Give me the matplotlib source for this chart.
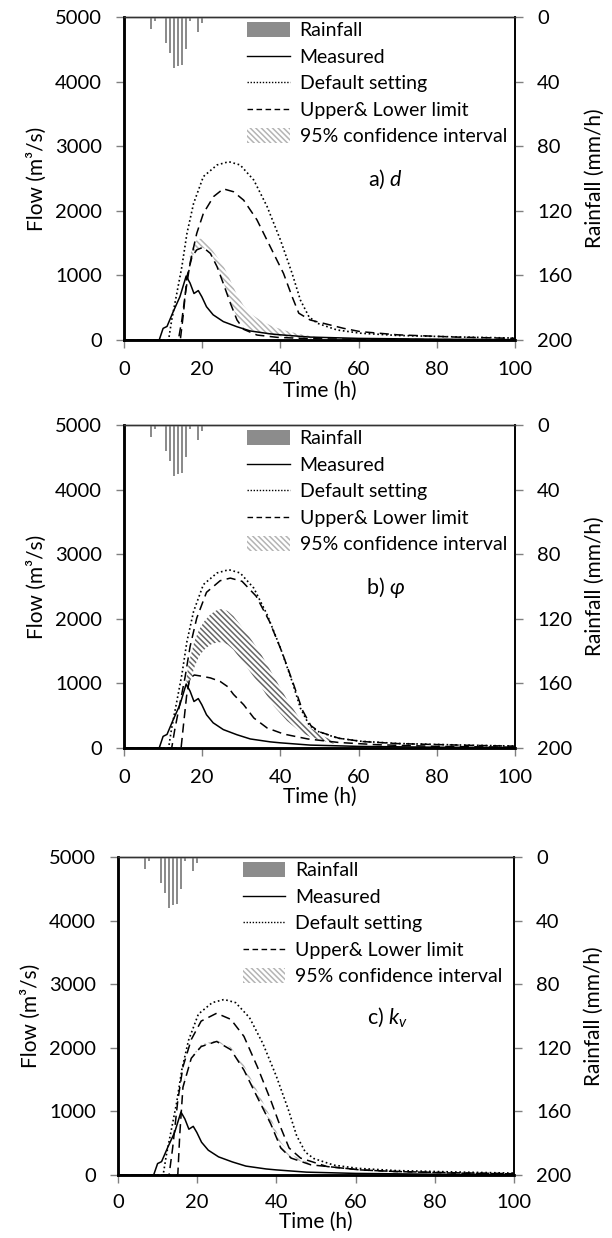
import matplotlib
matplotlib.use("Agg")
import matplotlib.pyplot as plt
from matplotlib.patches import Patch
from matplotlib.lines import Line2D

plt.rcParams['font.family'] = ['Lato', 'DejaVu Sans']
plt.rcParams['font.size'] = 14.5
plt.rcParams['mathtext.fontset'] = 'custom'
plt.rcParams['mathtext.rm'] = 'Lato'
plt.rcParams['mathtext.it'] = 'Lato:italic'
plt.rcParams['hatch.linewidth'] = 1.1

# ---------------- data ----------------
rain_t = [0.9, 3.1, 6.9, 7.9, 10.8, 11.8, 12.8, 13.8, 14.8, 15.9, 16.9, 19.0, 20.0, 25.9, 28.9, 29.9, 38.0]
rain_v = [0.8, 0.8, 7.6, 2.3, 16.3, 22.5, 31.8, 30.3, 29.7, 20.0, 2.3, 9.1, 3.9, 0.5, 0.5, 0.5, 0.5]

meas_t = [0, 9, 10, 11, 12.6, 14.3, 15.9, 16.9, 17.9, 19.0, 19.9, 21.1, 22.8, 25.4, 28.9, 32.3, 37.4, 40, 47.6, 60, 80, 100]
meas_q = [0, 0, 180, 210, 440, 670, 990, 880, 720, 765, 670, 515, 390, 285, 205, 140, 95, 80, 45, 25, 12, 6]

def_t = [0, 11.4, 12.2, 13.5, 14.8, 16.1, 17.8, 20.3, 23.8, 26.8, 29.7, 33.2, 36.6, 40.0, 43.0, 45.1, 47.3, 49.4, 54.5, 60.5, 70, 87, 100]
def_q = [0, 0, 310, 720, 1135, 1650, 2115, 2530, 2710, 2760, 2710, 2475, 2065, 1550, 1030, 620, 360, 260, 155, 105, 70, 45, 30]

# panel a (d)
up_a_t = [0, 13.9, 14.8, 15.7, 16.9, 18.6, 20.3, 22.9, 25.4, 28.0, 30.6, 34.0, 37.4, 40.8, 43.0, 44.7, 47.6, 56.2, 60.4, 70, 85, 100]
up_a_q = [0, 0, 310, 720, 1190, 1650, 1960, 2220, 2340, 2295, 2165, 1860, 1445, 1030, 670, 415, 310, 180, 130, 80, 45, 25]
lo_a_t = [0, 14.4, 15.2, 16.1, 17.4, 18.6, 20.2, 22.1, 23.8, 25.4, 27.2, 28.9, 30.6, 34.0, 39.2, 47.6, 60, 80, 100]
lo_a_q = [0, 0, 410, 980, 1290, 1395, 1435, 1340, 1135, 875, 570, 310, 165, 77, 41, 20, 12, 6, 3]
ci_a_t = [16.8, 17.8, 18.8, 19.8, 21.0, 22.5, 24.0, 25.5, 27.0, 28.9, 30.6, 32.3, 35.0, 38.0, 41.0, 45.0, 50.0]
ci_a_hi = [1300, 1480, 1560, 1570, 1510, 1400, 1270, 1140, 950, 700, 530, 410, 300, 210, 150, 90, 40]
ci_a_lo = [1200, 1330, 1400, 1430, 1410, 1310, 1120, 880, 620, 350, 220, 160, 110, 75, 50, 30, 15]

# panel b (phi)
up_b_t = [0, 12.2, 13.0, 14.3, 15.6, 16.9, 18.6, 21.1, 24.6, 27.2, 30.2, 33.8, 37.2, 40.5, 43.4, 45.6, 47.8, 50, 55, 61, 70, 87, 100]
up_b_q = [0, 0, 290, 690, 1090, 1570, 2010, 2410, 2590, 2630, 2580, 2350, 1960, 1470, 980, 590, 345, 250, 150, 100, 68, 43, 28]
lo_b_t = [0, 14.6, 15.2, 16.0, 16.8, 18.0, 20.0, 22.1, 24.6, 26.5, 28.0, 30.6, 33.2, 36.6, 40.9, 47, 55, 65, 80, 100]
lo_b_q = [0, 0, 350, 800, 1080, 1130, 1110, 1085, 1030, 950, 830, 670, 465, 310, 215, 140, 85, 50, 25, 12]
ci_b_t = [16.0, 16.6, 18.0, 19.2, 20.5, 22.1, 23.6, 25.1, 26.5, 28.0, 31.4, 34.9, 38.3, 41.7, 45.1, 47.7, 51.0, 54.0]
ci_b_hi = [1100, 1320, 1650, 1830, 1960, 2070, 2130, 2155, 2120, 2040, 1780, 1470, 1110, 750, 440, 310, 180, 100]
ci_b_lo = [900, 960, 1250, 1420, 1520, 1600, 1630, 1640, 1600, 1520, 1250, 960, 650, 420, 250, 170, 110, 60]

# panel c (kv)
up_c_t = [0, 12.9, 13.8, 15.1, 16.4, 18.5, 21.0, 24.9, 28.5, 31.8, 35.2, 38.6, 41.1, 43.2, 46.1, 52.8, 61.2, 70, 85, 100]
up_c_q = [0, 0, 425, 1170, 1700, 2130, 2420, 2543, 2447, 2180, 1700, 1170, 745, 425, 266, 133, 80, 55, 35, 20]
lo_c_t = [0, 15.1, 15.6, 16.4, 18.5, 21.0, 24.9, 28.5, 31.8, 35.2, 38.6, 41.1, 43.7, 48.7, 61.2, 70, 85, 100]
lo_c_q = [0, 0, 640, 1380, 1835, 2020, 2100, 1970, 1650, 1220, 800, 425, 266, 160, 80, 55, 30, 18]
ci_c_t = [16.4, 18.5, 21.0, 24.9, 28.5, 31.8, 35.2, 38.6, 41.1, 43.7, 48.7]
ci_c_hi = [1420, 1860, 2050, 2120, 2010, 1730, 1320, 900, 520, 320, 180]
ci_c_lo = [1380, 1835, 2020, 2100, 1970, 1650, 1220, 800, 425, 266, 160]

panels = [
    dict(rect=(124, 515, 17, 340), up=(up_a_t, up_a_q), lo=(lo_a_t, lo_a_q),
         ci=(ci_a_t, ci_a_lo, ci_a_hi), ci_color='#b4b4b4', label=r'a) $d$', lx=67,
         xpad=9, lpad=2),
    dict(rect=(124, 515, 425, 748), up=(up_b_t, up_b_q), lo=(lo_b_t, lo_b_q),
         ci=(ci_b_t, ci_b_lo, ci_b_hi), ci_color='#666666', label=r'b) $\varphi$', lx=67,
         xpad=9, lpad=1),
    dict(rect=(118, 514, 857, 1175), up=(up_c_t, up_c_q), lo=(lo_c_t, lo_c_q),
         ci=(ci_c_t, ci_c_lo, ci_c_hi), ci_color='#b4b4b4', label=r'c) $k_v$', lx=68,
         xpad=8, lpad=0),
]

W, H = 612, 1238
fig = plt.figure(figsize=(W / 100, H / 100), dpi=100)

HATCH = '\\\\\\\\\\\\'
DASH = (6, 3.5)
DOT = (1, 1.6)

for p in panels:
    l, r, t, b = p['rect']
    ax = fig.add_axes([l / W, 1 - b / H, (r - l) / W, (b - t) / H])
    ax2 = ax.twinx()

    ax.fill_between(p['ci'][0], p['ci'][1], p['ci'][2], facecolor='none',
                    edgecolor=p['ci_color'], linewidth=0, hatch=HATCH, zorder=1)
    ax.plot(meas_t, meas_q, color='black', lw=1.1, zorder=3)
    ax.plot(def_t, def_q, color='black', lw=1.2, linestyle=(0, DOT), zorder=3)
    ax.plot(*p['up'], color='black', lw=1.1, linestyle=(0, DASH), zorder=3)
    ax.plot(*p['lo'], color='black', lw=1.1, linestyle=(0, DASH), zorder=3)

    ax.set_xlim(0, 100)
    ax.set_ylim(0, 5000)
    ax.set_xticks(range(0, 101, 20))
    ax.set_yticks(range(0, 5001, 1000))
    ax.set_xlabel('Time (h)', labelpad=p['lpad'], fontsize=15)
    ax.set_ylabel('Flow (m³/s)', labelpad=6, fontsize=15)
    ax.tick_params(axis='both', direction='out', length=6, width=1, color='#808080')
    ax.tick_params(axis='y', pad=10)
    ax.tick_params(axis='x', pad=p['xpad'])
    ax.text(p['lx'], 2480, p['label'], fontsize=15.5, ha='center', va='center')

    ax2.bar(rain_t, rain_v, width=0.55, color='#8c8c8c', zorder=2)
    ax2.set_ylim(200, 0)
    ax2.set_yticks(range(0, 201, 40))
    ax2.set_ylabel('Rainfall (mm/h)', labelpad=9, fontsize=15)
    ax2.tick_params(axis='y', direction='out', length=6, width=1, color='#808080', pad=10)

    for a in (ax, ax2):
        a.spines['left'].set_linewidth(1.8)
        a.spines['bottom'].set_linewidth(1.8)
        a.spines['right'].set_linewidth(1.2)
        a.spines['top'].set_linewidth(1.0)
        a.spines['top'].set_color('#333333')

    handles = [
        Patch(facecolor='#8c8c8c', edgecolor='none'),
        Line2D([], [], color='black', lw=1.0),
        Line2D([], [], color='black', lw=1.0, linestyle=(0, (1, 1.2))),
        Line2D([], [], color='black', lw=1.0, linestyle=(0, (4, 2.5))),
        Patch(facecolor='white', edgecolor='#b4b4b4', linewidth=0, hatch=HATCH),
    ]
    labels = ['Rainfall', 'Measured', 'Default setting', 'Upper& Lower limit',
              '95% confidence interval']
    ax2.legend(handles, labels, loc='upper left', bbox_to_anchor=(0.31, 0.99),
               frameon=False, fontsize=14, handlelength=2.2, handleheight=0.8,
               handletextpad=0.5, labelspacing=0.48, borderpad=0.1, borderaxespad=0)

fig.savefig('out.png', dpi=100)
